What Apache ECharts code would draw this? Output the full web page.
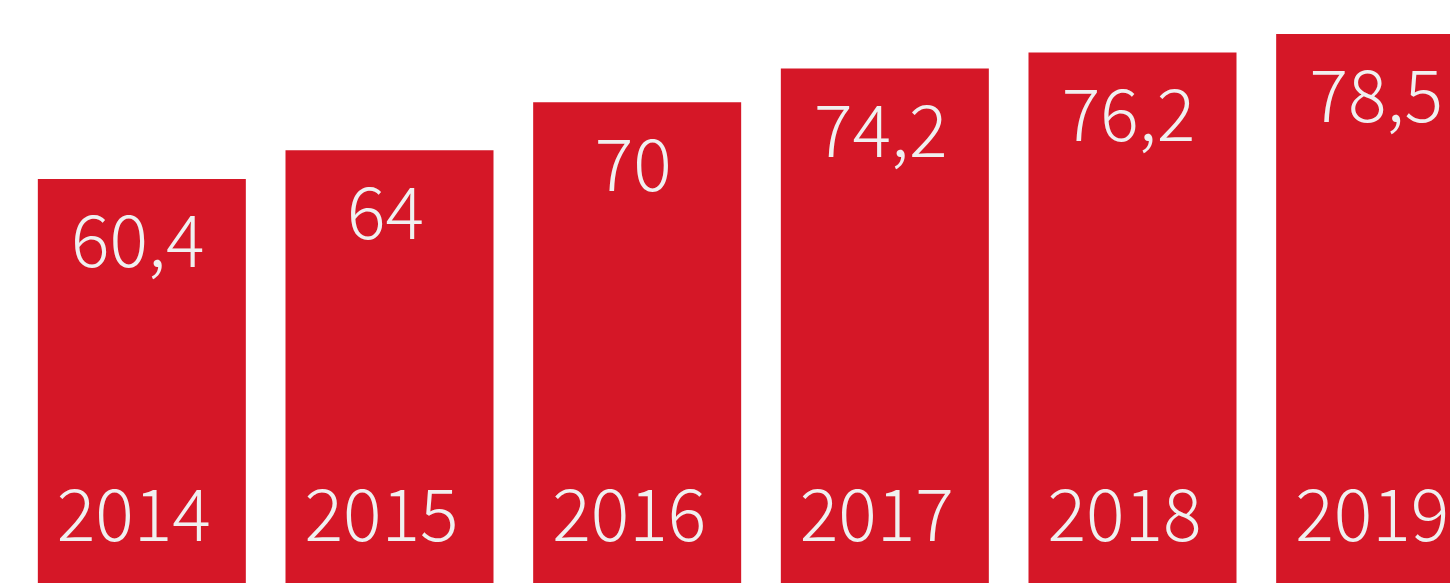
<!DOCTYPE html>
<html>
<head>
<meta charset="utf-8">
<script src="https://cdn.jsdelivr.net/npm/echarts@6/dist/echarts.min.js"></script>
<style>html,body{margin:0;padding:0;background:#fff}#c{width:1450px;height:583px}</style>
</head>
<body>
<div id="c"></div>
<script>
const years = ['2014', '2015', '2016', '2017', '2018', '2019'];
const values = [60.4, 64, 70, 74.2, 76.2, 78.5];

const chart = echarts.init(document.getElementById('c'));
const font = { fontFamily: 'Noto Sans CJK SC', fontWeight: 300, fontSize: 72, color: '#F0F0F0' };
chart.setOption({
  animation: false,
  grid: { left: 18, right: -54, top: 22, bottom: 0, outerBoundsMode: 'none', containLabel: false },
  xAxis: { type: 'category', data: years, show: false },
  yAxis: { type: 'value', min: 10, max: 80, show: false },
  series: [
    {
      type: 'bar', data: values, barWidth: 208,
      itemStyle: { color: '#D51727' },
      label: Object.assign({ show: true, position: 'insideTop', distance: 25, offset: [-4, 0],
        formatter: p => String(p.value).replace('.', ',') }, font)
    },
    {
      type: 'bar', data: values, barWidth: 208, barGap: '-100%',
      itemStyle: { color: 'rgba(0,0,0,0)' },
      label: Object.assign({ show: true, position: 'insideBottom', distance: 33, offset: [-8, 0],
        formatter: p => p.name }, font)
    }
  ]
});
</script>
</body>
</html>
